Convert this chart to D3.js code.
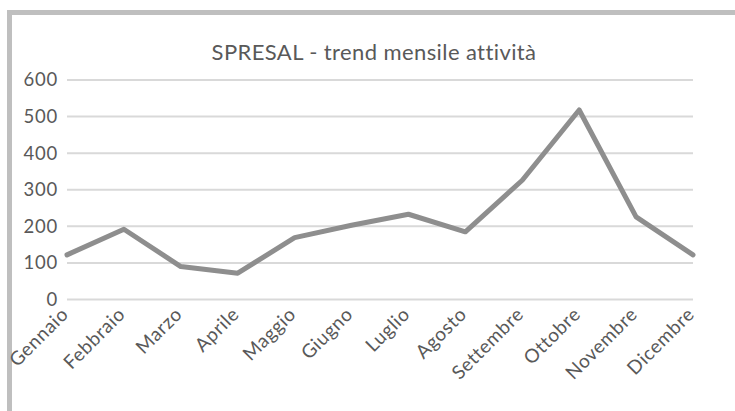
<!DOCTYPE html>
<html>
<head>
<meta charset="utf-8">
<script src="https://cdn.jsdelivr.net/npm/d3@7"></script>
<style>
  html, body { margin: 0; padding: 0; background: #fff; }
  svg { display: block; }
  text { font-family: Lato, "Noto Sans", sans-serif; }
</style>
</head>
<body>
<svg id="chart" width="735" height="411"></svg>
<script>
// Monthly SPRESAL activity counts
const months = ["Gennaio", "Febbraio", "Marzo", "Aprile", "Maggio", "Giugno",
                "Luglio", "Agosto", "Settembre", "Ottobre", "Novembre", "Dicembre"];
const activity = [122, 192, 90, 72, 169, 203, 233, 185, 326, 518, 226, 122];
const yTicks = [0, 100, 200, 300, 400, 500, 600];
const title = "SPRESAL - trend mensile attività";

const svg = d3.select("#chart");
const W = 735, H = 411;
const plot = { left: 67, right: 693, top: 80, bottom: 299.5 };

// chart frame (top and left edges visible)
svg.append("path")
  .attr("d", `M9.5,${H} V12.5 H${W}`)
  .attr("fill", "none")
  .attr("stroke", "#bfbfbf")
  .attr("stroke-width", 5);

const x = d3.scalePoint().domain(months).range([plot.left, plot.right]).padding(0);
const y = d3.scaleLinear().domain([0, 600]).range([plot.bottom, plot.top]);

// horizontal gridlines
svg.append("g")
  .selectAll("line")
  .data(yTicks)
  .join("line")
  .attr("x1", plot.left)
  .attr("x2", plot.right)
  .attr("y1", d => y(d))
  .attr("y2", d => y(d))
  .attr("stroke", "#d9d9d9")
  .attr("stroke-width", 2);

// y axis labels
const yAxis = d3.axisLeft(y).tickValues(yTicks).tickSize(0).tickPadding(9);
svg.append("g")
  .attr("transform", `translate(${plot.left},0)`)
  .call(yAxis)
  .call(g => g.select(".domain").remove())
  .call(g => g.selectAll("text")
    .attr("fill", "#595959")
    .style("font-size", "18.5px")
    .style("letter-spacing", "0.8px")
    .style("font-family", "Lato, sans-serif"));

// x axis labels, rotated
const xAxis = d3.axisBottom(x).tickSize(0).tickPadding(0);
svg.append("g")
  .attr("transform", `translate(0,${plot.bottom})`)
  .call(xAxis)
  .call(g => g.select(".domain").remove())
  .call(g => g.selectAll("text")
    .attr("fill", "#595959")
    .style("font-size", "19px")
    .style("letter-spacing", "0.6px")
    .style("font-family", "Lato, sans-serif")
    .attr("text-anchor", "end")
    .attr("dy", "0")
    .attr("y", 0)
    .attr("transform", "translate(2,16) rotate(-45)"));

// line series
const line = d3.line()
  .x((d, i) => x(months[i]))
  .y(d => y(d));

svg.append("path")
  .datum(activity)
  .attr("d", line)
  .attr("fill", "none")
  .attr("stroke", "#8e8e8e")
  .attr("stroke-width", 5)
  .attr("stroke-linejoin", "round")
  .attr("stroke-linecap", "round");

// title
svg.append("text")
  .attr("x", 374)
  .attr("y", 60)
  .attr("text-anchor", "middle")
  .attr("fill", "#595959")
  .style("font-size", "22px")
  .style("letter-spacing", "0.4px")
  .text(title);
</script>
</body>
</html>
